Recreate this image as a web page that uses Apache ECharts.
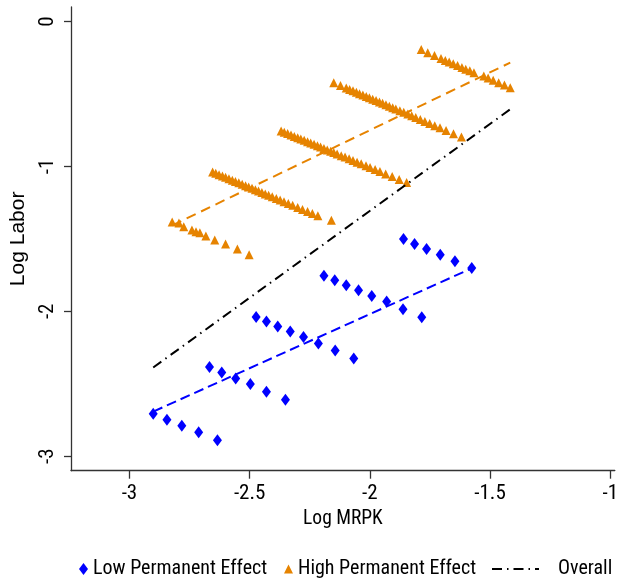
<!DOCTYPE html>
<html><head><meta charset="utf-8">
<script src="https://cdn.jsdelivr.net/npm/echarts@6/dist/echarts.min.js"></script>
<style>html,body{margin:0;padding:0;background:#fff}#c{width:621px;height:586px}</style>
</head><body><div id="c"></div>
<script>
const xTicks = [-3, -2.5, -2, -1.5, -1];
const yTicks = [0, -1, -2, -3];

// Low permanent effect (blue diamonds), groups
const low1 = [[-2.901,-2.707],[-2.844,-2.748],[-2.782,-2.789],[-2.712,-2.835],[-2.634,-2.890]];
const low2 = [[-2.667,-2.385],[-2.616,-2.422],[-2.558,-2.463],[-2.497,-2.502],[-2.430,-2.555],[-2.351,-2.610]];
const low3 = [[-2.473,-2.039],[-2.430,-2.071],[-2.383,-2.105],[-2.331,-2.140],[-2.276,-2.178],[-2.214,-2.222],[-2.144,-2.271],[-2.067,-2.326]];
const low4 = [[-2.191,-1.754],[-2.146,-1.786],[-2.098,-1.820],[-2.047,-1.855],[-1.992,-1.894],[-1.930,-1.933],[-1.862,-1.986],[-1.784,-2.041]];
const low5 = [[-1.860,-1.501],[-1.814,-1.536],[-1.764,-1.570],[-1.707,-1.610],[-1.646,-1.655],[-1.576,-1.701]];

// High permanent effect (orange triangles), groups
const high1 = [[-2.822,-1.384],[-2.794,-1.391],[-2.774,-1.417],[-2.740,-1.439],[-2.723,-1.451],[-2.707,-1.458],[-2.682,-1.481],[-2.645,-1.508],[-2.600,-1.536],[-2.551,-1.570],[-2.502,-1.610]];
const high2 = [[-2.654,-1.038],[-2.641,-1.047],[-2.627,-1.057],[-2.613,-1.066],[-2.600,-1.075],[-2.586,-1.085],[-2.572,-1.095],[-2.559,-1.104],[-2.545,-1.113],[-2.531,-1.123],[-2.517,-1.133],[-2.504,-1.142],[-2.490,-1.151],[-2.476,-1.161],[-2.463,-1.170],[-2.449,-1.180],[-2.435,-1.190],[-2.421,-1.199],[-2.406,-1.210],[-2.389,-1.221],[-2.373,-1.232],[-2.357,-1.244],[-2.339,-1.256],[-2.321,-1.268],[-2.300,-1.283],[-2.280,-1.297],[-2.259,-1.311],[-2.239,-1.325],[-2.216,-1.341],[-2.160,-1.372]];
const high3 = [[-2.369,-0.755],[-2.356,-0.764],[-2.342,-0.773],[-2.328,-0.783],[-2.314,-0.793],[-2.300,-0.802],[-2.287,-0.811],[-2.273,-0.820],[-2.259,-0.830],[-2.246,-0.839],[-2.232,-0.848],[-2.218,-0.858],[-2.205,-0.867],[-2.191,-0.876],[-2.177,-0.886],[-2.163,-0.895],[-2.150,-0.904],[-2.136,-0.914],[-2.119,-0.926],[-2.103,-0.936],[-2.086,-0.948],[-2.070,-0.959],[-2.053,-0.971],[-2.036,-0.982],[-2.016,-0.996],[-1.999,-1.007],[-1.978,-1.022],[-1.958,-1.035],[-1.934,-1.052],[-1.907,-1.070],[-1.878,-1.090],[-1.847,-1.111]];
const high4 = [[-2.150,-0.422],[-2.122,-0.442],[-2.098,-0.459],[-2.084,-0.469],[-2.070,-0.478],[-2.056,-0.488],[-2.043,-0.498],[-2.029,-0.507],[-2.015,-0.517],[-2.002,-0.526],[-1.988,-0.536],[-1.974,-0.546],[-1.960,-0.556],[-1.947,-0.565],[-1.933,-0.575],[-1.919,-0.585],[-1.905,-0.595],[-1.892,-0.604],[-1.875,-0.616],[-1.859,-0.627],[-1.842,-0.639],[-1.826,-0.651],[-1.809,-0.663],[-1.790,-0.676],[-1.771,-0.690],[-1.751,-0.704],[-1.730,-0.719],[-1.708,-0.734],[-1.683,-0.752],[-1.652,-0.774],[-1.619,-0.797]];
const high5 = [[-1.786,-0.193],[-1.759,-0.216],[-1.731,-0.234],[-1.704,-0.255],[-1.686,-0.269],[-1.670,-0.280],[-1.653,-0.291],[-1.635,-0.303],[-1.617,-0.317],[-1.601,-0.329],[-1.584,-0.340],[-1.567,-0.353],[-1.526,-0.377],[-1.508,-0.390],[-1.487,-0.406],[-1.464,-0.422],[-1.440,-0.439],[-1.416,-0.457]];

// Fitted lines
const fitLow = [[-2.901,-2.692],[-1.576,-1.703]];
const fitHigh = [[-2.822,-1.407],[-1.416,-0.284]];
const fitAll = [[-2.901,-2.388],[-1.416,-0.606]];

const lowData = [].concat(low1, low2, low3, low4, low5);
const highData = [].concat(high1, high2, high3, high4, high5);

// pick a condensed font if one is installed
function hasFont(name) {
  const c = document.createElement('canvas').getContext('2d');
  const t = 'Low Permanent Effect -2.5 MRPK';
  c.font = '40px monospace';
  const a = c.measureText(t).width;
  c.font = '40px "' + name + '", monospace';
  return Math.abs(c.measureText(t).width - a) > 0.5;
}
const narrow = ['Liberation Sans Narrow', 'Arial Narrow', 'Roboto Condensed', 'Open Sans Condensed', 'Noto Sans Condensed'].find(hasFont);
const FONT = narrow ? '"' + narrow + '",sans-serif' : '"Liberation Sans",Arial,sans-serif';
const FONT_REG = '"Liberation Sans",Arial,sans-serif';
const SZ = narrow ? {tick: 21, name: 19.5, legend: 20} : {tick: 19, name: 17.5, legend: 18};

const BLUE = '#0000ff', ORANGE = '#e68300', BLACK = '#000000';
const axisCol = '#333333';

const chart = echarts.init(document.getElementById('c'), null, {renderer: 'canvas'});
const legendText = {fontSize: SZ.legend, fontFamily: FONT, color: '#000'};
chart.setOption({
  animation: false,
  grid: {left: 67.5, right: 4, top: 7, bottom: 115.3, containLabel: false},
  xAxis: {
    type: 'value', min: -3.243, max: -0.981,
    name: 'Log MRPK', nameLocation: 'middle', nameGap: 38,
    nameTextStyle: {fontSize: SZ.name, fontFamily: FONT, color: '#000'},
    axisLine: {show: true, onZero: false, lineStyle: {color: axisCol, width: 1.3}},
    axisTick: {show: true, length: 8, customValues: xTicks, lineStyle: {color: axisCol, width: 1.3}},
    axisLabel: {customValues: xTicks, margin: 13, fontSize: SZ.tick, lineHeight: SZ.tick, fontFamily: FONT, color: '#000', formatter: v => String(v)},
    splitLine: {show: false}
  },
  yAxis: {
    type: 'value', min: -3.1, max: 0.1,
    name: 'Log Labor', nameLocation: 'middle', nameGap: 42, nameRotate: 90,
    nameTextStyle: {fontSize: 21, fontFamily: FONT_REG, color: '#000'},
    axisLine: {show: true, onZero: false, lineStyle: {color: axisCol, width: 1.3}},
    axisTick: {show: true, length: 7, customValues: yTicks, lineStyle: {color: axisCol, width: 1.3}},
    axisLabel: {customValues: yTicks, rotate: 90, margin: 13, fontSize: SZ.tick, lineHeight: SZ.tick, fontFamily: FONT, color: '#000', formatter: v => String(v)},
    splitLine: {show: false}
  },
  legend: [
    {data: [{name: 'Low Permanent Effect', icon: 'diamond'}], left: 79, top: 559, padding: 0, itemWidth: 9, itemHeight: 12, textStyle: legendText, selectedMode: false},
    {data: [{name: 'High Permanent Effect', icon: 'triangle'}], left: 284, top: 559, padding: 0, itemWidth: 9, itemHeight: 9, textStyle: legendText, selectedMode: false},
    {data: [{name: 'Overall', itemStyle: {color: 'rgba(0,0,0,0)', borderColor: 'rgba(0,0,0,0)', borderWidth: 0, opacity: 0}}], left: 491, top: 559, padding: 0, itemWidth: 47, itemHeight: 10,
     textStyle: Object.assign({}, legendText, {padding: [0, 0, 0, 14]}), selectedMode: false}
  ],
  series: [
    {name: 'Low Permanent Effect', type: 'scatter', data: lowData, symbol: 'diamond', symbolSize: [9, 12], itemStyle: {color: BLUE, opacity: 1}},
    {name: 'High Permanent Effect', type: 'scatter', data: highData, symbol: 'triangle', symbolSize: 9, itemStyle: {color: ORANGE, opacity: 1}},
    {name: 'Low fit', type: 'line', data: fitLow, symbol: 'none', lineStyle: {color: BLUE, width: 2, type: [10, 5]}, itemStyle: {color: BLUE}},
    {name: 'High fit', type: 'line', data: fitHigh, symbol: 'none', lineStyle: {color: ORANGE, width: 2, type: [10, 6]}, itemStyle: {color: ORANGE}},
    {name: 'Overall', type: 'line', data: fitAll, symbol: 'none', lineStyle: {color: BLACK, width: 2, type: [10, 5, 1.5, 5]}, itemStyle: {color: BLACK}}
  ]
});
</script>
</body></html>
